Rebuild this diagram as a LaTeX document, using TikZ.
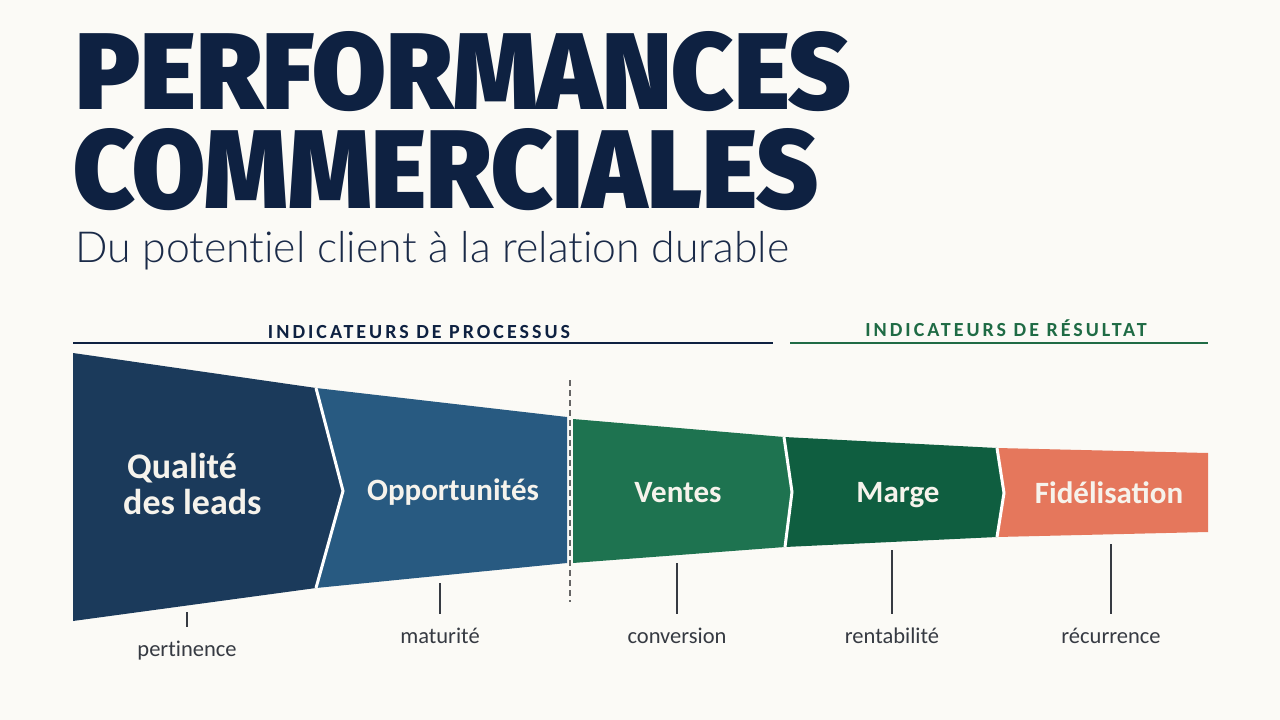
\documentclass[tikz,border=0pt]{standalone}
\usepackage{fontspec}
\usepackage{graphicx}
\setmainfont{Carlito}
\newfontfamily\titlefont{Fira Sans Black}
\newfontfamily\subfont{Lato Light}[Ligatures=NoCommon]
\newfontfamily\lblfont{Carlito}[Ligatures=NoCommon]
\newfontfamily\hdrfont{Carlito}[LetterSpace=15]
\usetikzlibrary{calc}

\definecolor{bgc}{HTML}{FBFAF6}
\definecolor{navy}{HTML}{0E2141}
\definecolor{subnavy}{HTML}{1A2A48}
\definecolor{segA}{HTML}{1B3A5B}
\definecolor{segB}{HTML}{285A81}
\definecolor{segC}{HTML}{1E7350}
\definecolor{segD}{HTML}{0F5E40}
\definecolor{segE}{HTML}{E5775C}
\definecolor{hgreen}{HTML}{1F6B45}
\definecolor{lblgray}{HTML}{363A42}
\definecolor{segtxt}{HTML}{F6F3EC}

\begin{document}
\begin{tikzpicture}[x=1pt, y=-1pt,
  sep/.style     = {white, line width=3pt, line join=miter},
  seglbl/.style  = {font=\bfseries\fontsize{31}{34}\selectfont, text=segtxt,
                    inner sep=0pt, anchor=base},
  biglbl/.style  = {seglbl, anchor=base west, font=\bfseries\fontsize{36}{38}\selectfont},
  lbl/.style     = {font=\lblfont\fontsize{22.5}{25}\selectfont, text=lblgray, inner sep=0pt,
                    anchor=base, text height=14pt, text depth=4pt},
  tickln/.style  = {draw=lblgray, line width=1.1pt, shorten >=15pt},
  hdr/.style     = {font=\hdrfont\bfseries\fontsize{20}{22}\selectfont,
                    inner sep=0pt, anchor=base},
  hdrline/.style = {line width=2.4pt},
]

%% page
\fill[bgc] (0,0) rectangle (1280,720);

%% title and subtitle
\node[anchor=base west, inner sep=0pt, text=navy] (ttlA) at (75,109)
  {\resizebox{776pt}{78pt}{\titlefont PERFORMANCES}};
\node[anchor=base west, inner sep=0pt, text=navy] (ttlB) at (73,208)
  {\resizebox{745pt}{80pt}{\titlefont COMMERCIALES}};
\node[anchor=base west, inner sep=0pt, text=subnavy] (subt) at (75,262)
  {\resizebox{714pt}{!}{\subfont Du potentiel client à la relation durable}};

%% the two groups of indicators
\node[hdr, text=navy]   (hproc) at (419,338) {INDICATEURS DE PROCESSUS};
\node[hdr, text=hgreen] (hres)  at (1006,336) {INDICATEURS DE RÉSULTAT};
\draw[hdrline, navy]   (73,343)  -- (773,343);
\draw[hdrline, hgreen] (790,343) -- (1208,343);

%% funnel
\fill[segA] (73,353) -- (316,388) -- (343,491) -- (316,588) -- (73,621) -- cycle;
\fill[segB] (316,388) -- (567,417) -- (567,563) -- (316,588) -- (343,491) -- cycle;
\fill[segC] (573,419) -- (784,437) -- (792,492) -- (785,547) -- (573,563) -- cycle;
\fill[segD] (784,437) -- (997,448) -- (1004,493) -- (997,537) -- (785,547)
            -- (792,492) -- cycle;
\fill[segE] (997,448) -- (1208,453) -- (1208,532) -- (997,537) -- (1004,493) -- cycle;
\draw[sep] (316,388) -- (343,491) -- (316,588);
\draw[sep] (784,437) -- (792,492) -- (785,547);
\draw[sep] (997,448) -- (1004,493) -- (997,537);

\draw[gray!80!black, line width=1.1pt, dash pattern=on 6pt off 4pt]
  (570,380) -- (570,602);

\node[biglbl] (qualA) at (127,478) {Qualité};
\node[biglbl] (qualB) at (123,514) {des leads};
\node[seglbl] (oppo) at (453,500) {Opportunités};
\node[seglbl] (vent) at (678,502) {Ventes};
\node[seglbl] (marg) at (898,502) {Marge};
\node[seglbl] (fide) at (1109,503) {Fidélisation};

%% what each stage measures
\coordinate (tkA) at (187,612);
\coordinate (tkB) at (440,583);
\coordinate (tkC) at (677,563);
\coordinate (tkD) at (892,550);
\coordinate (tkE) at (1111,544);
\node[lbl] (pert) at (187,656) {pertinence};
\node[lbl] (matu) at (440,643) {maturité};
\node[lbl] (conv) at (677,643) {conversion};
\node[lbl] (rent) at (892,643) {rentabilité};
\node[lbl] (recu) at (1111,643) {récurrence};
\draw[tickln] (tkA) -- (pert.north);
\draw[tickln] (tkB) -- (matu.north);
\draw[tickln] (tkC) -- (conv.north);
\draw[tickln] (tkD) -- (rent.north);
\draw[tickln] (tkE) -- (recu.north);

\end{tikzpicture}
\end{document}
